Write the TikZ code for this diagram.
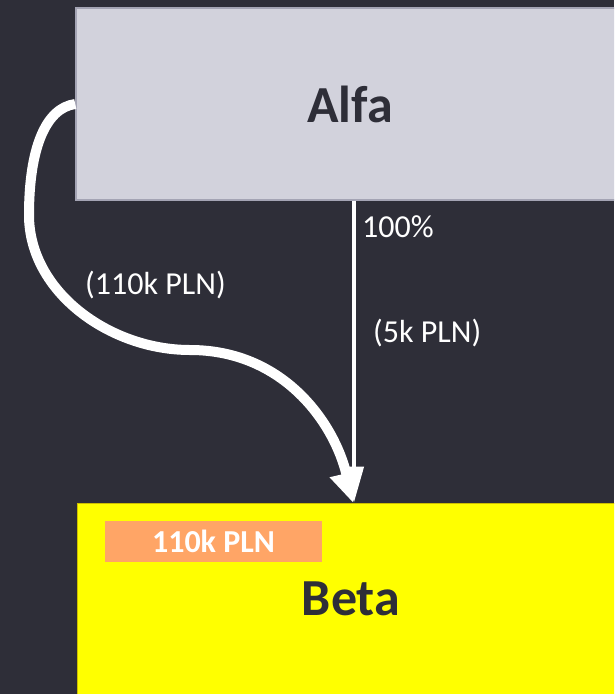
\documentclass[tikz,border=0pt]{standalone}
\usepackage{fontspec}
\setmainfont{Carlito}
\usetikzlibrary{arrows.meta}
\definecolor{bgdark}{HTML}{2E2E38}
\definecolor{alfafill}{HTML}{D2D2DC}
\definecolor{alfaedge}{HTML}{A4A4B4}
\definecolor{betafill}{HTML}{FFFF00}
\definecolor{betaedge}{HTML}{CDBE00}
\definecolor{tagfill}{HTML}{FFA566}
\tikzset{
  bigbox/.style={minimum width=548pt,minimum height=192pt,inner sep=0pt,
    font=\fontsize{52}{60}\selectfont\bfseries,text=bgdark},
  lbl/.style={font=\fontsize{32}{36}\selectfont,text=white,inner sep=0pt,anchor=base west},
  thinflow/.style={draw=white,line width=4pt,-{Triangle[length=36pt,width=19pt]}},
  thickflow/.style={draw=white,line width=10pt,-{Triangle[length=30pt,width=32pt]}},
  tagbox/.style={fill=tagfill,minimum width=217pt,minimum height=41pt,inner sep=0pt,
    font=\fontsize{32}{36}\selectfont\bfseries,text=white}
}
\begin{document}
\begin{tikzpicture}[x=1pt,y=-1pt]
\useasboundingbox (0,0) rectangle (614,694);
\fill[bgdark] (0,0) rectangle (614,694);
\clip (0,0) rectangle (614,694);
\node[bigbox,fill=alfafill,draw=alfaedge,line width=1.5pt] (alfa) at (350,104) {Alfa};
\node[bigbox,fill=betafill,draw=betaedge,line width=0.8pt] (beta) at (351,599) {Beta};
\node[tagbox] (tag) at (213.5,541.5) {110k PLN};
\draw[thinflow] ([xshift=4pt]alfa.south) -- ([xshift=3pt]beta.north);
\draw[thickflow] (alfa.west) .. controls (45,108) and (29,150) .. (29,215)
  .. controls (29,292) and (110,350) .. (190,350)
  .. controls (285,350) and (335,425) .. ([xshift=2pt]beta.north);
\node[lbl] (pct) at (362,237) {100\%};
\node[lbl] (lefta) at (85,294) {(110k PLN)};
\node[lbl] (righta) at (373,342) {(5k PLN)};
\end{tikzpicture}
\end{document}
